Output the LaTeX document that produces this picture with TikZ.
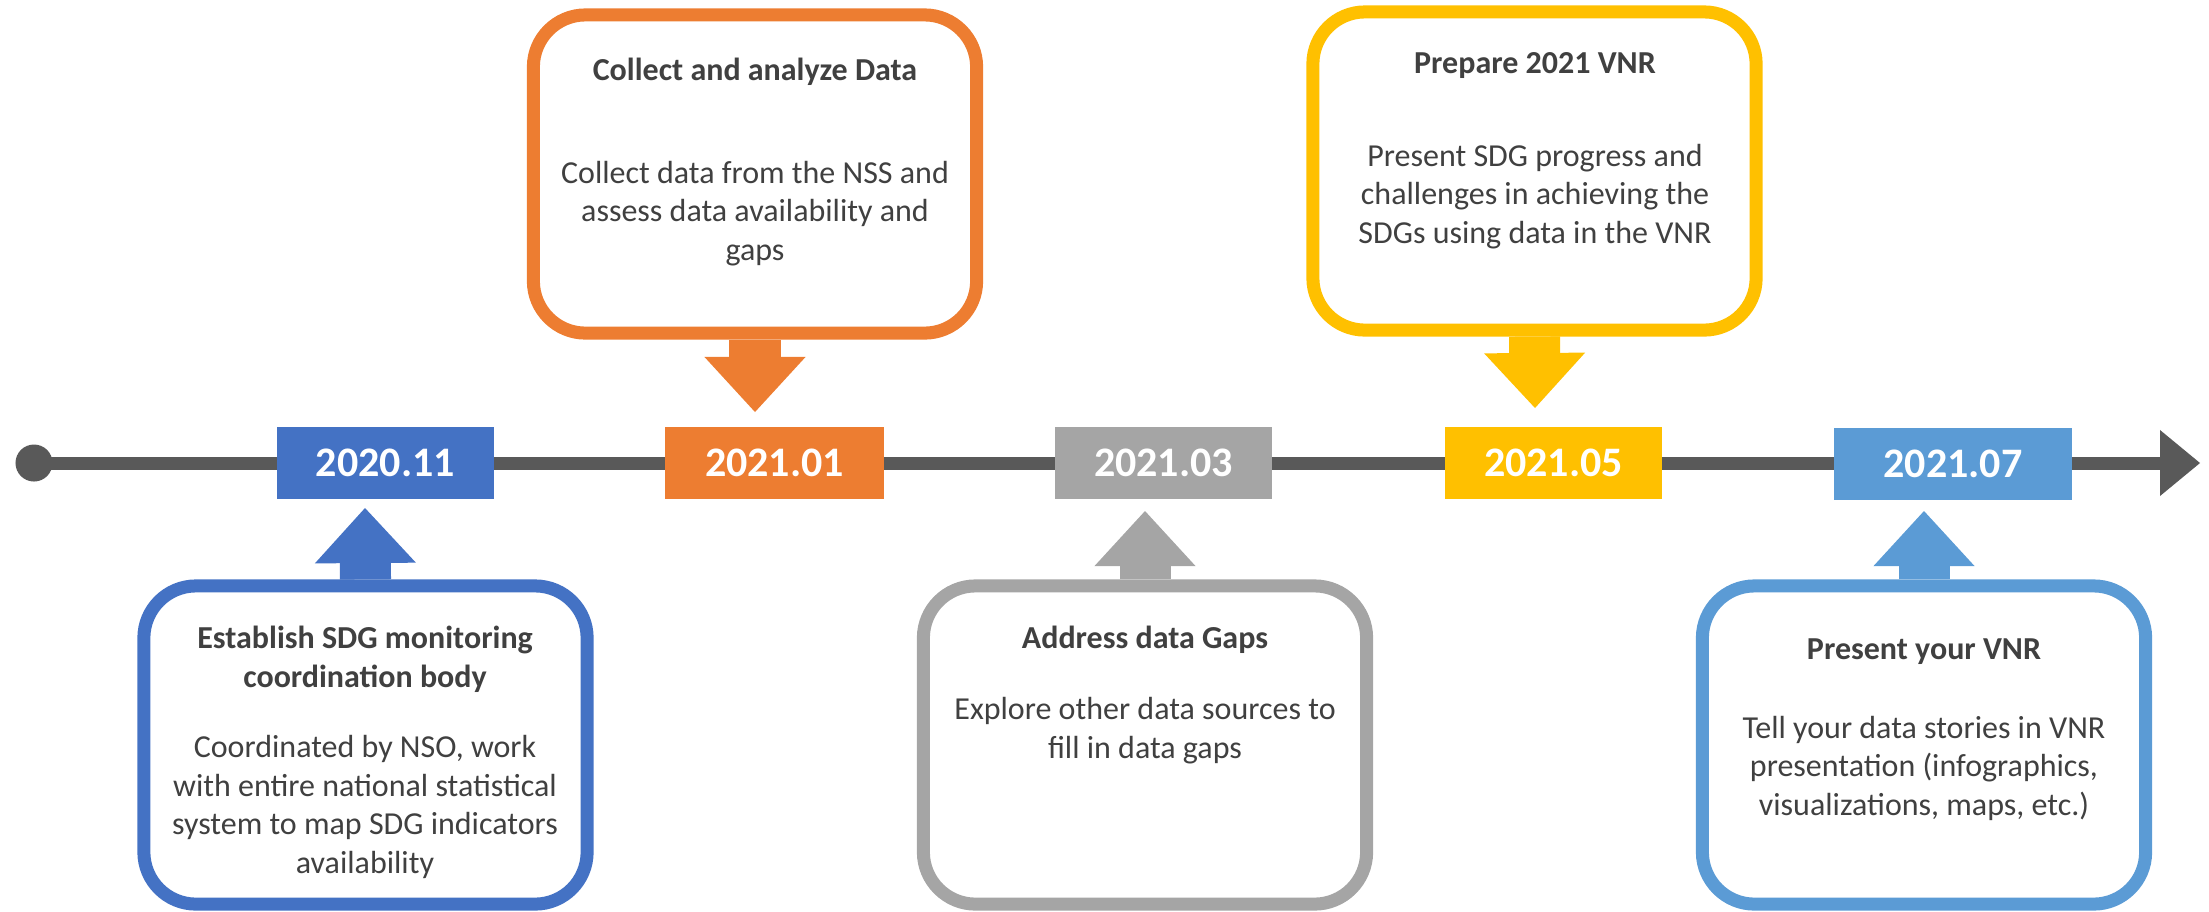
\documentclass[tikz,border=0pt]{standalone}
\usepackage{fontspec}
\setmainfont{Carlito}
\usepackage{tikz}
\usetikzlibrary{arrows.meta}
\definecolor{tlgray}{HTML}{595959}
\definecolor{txtgray}{HTML}{404040}
\definecolor{sdgblue}{HTML}{4472C4}
\definecolor{sdgorange}{HTML}{ED7D31}
\definecolor{sdggray}{HTML}{A5A5A5}
\definecolor{sdgyellow}{HTML}{FFC000}
\definecolor{sdglight}{HTML}{5B9BD5}
\tikzset{
  timeline/.style = {draw=tlgray, line width=3.7pt,
   -{Triangle[length=4mm, width=6.6mm, line width=0pt]}},
  dot/.style = {circle, fill=tlgray, inner sep=0pt, minimum size=3.7mm},
  datebox/.style = {rectangle, fill=#1, text=white, inner sep=0pt,
   minimum height=7.2mm, font=\fontsize{11.95}{14}\selectfont\bfseries},
  callout/.style = {rectangle, rounded corners=5.2mm, draw=#1, fill=white,
   line width=3.7pt, minimum width=44.3mm, minimum height=31.8mm},
  head/.style = {text=txtgray, align=center, anchor=base, inner sep=0pt,
   font=\fontsize{9.1}{10.95}\selectfont\bfseries},
  body/.style = {text=txtgray, align=center, anchor=base, inner sep=0pt,
   font=\fontsize{9.1}{10.95}\selectfont},
  fat/.style = {draw=#1, line width=5.1mm,
   -{Triangle[length=5.5mm, width=10.1mm, line width=0pt]}},
}
\begin{document}
\begin{tikzpicture}[x=0.01cm, y=-0.01cm]
  \useasboundingbox (0,0) rectangle (2209,911);
  % time axis
  \node (start) [dot] at (34,463) {};
  \coordinate (tend) at (2200,463);
  \draw[timeline] (start.center) -- (tend);
  % dates
  \node (d1) [datebox=sdgblue, minimum width=21.7mm] at (385.5,463) {2020.11};
  \node (d2) [datebox=sdgorange, minimum width=21.9mm] at (774.5,463) {2021.01};
  \node (d3) [datebox=sdggray, minimum width=21.7mm] at (1163.5,463) {2021.03};
  \node (d4) [datebox=sdgyellow, minimum width=21.7mm] at (1553.5,463) {2021.05};
  \node (d5) [datebox=sdglight, minimum width=23.8mm] at (1953,464) {2021.07};
  % boxes
  \node (c1) [callout=sdgblue] at (365.5,745) {};
  \node (c2) [callout=sdgorange] at (755,174) {};
  \node (c3) [callout=sdggray] at (1145,745) {};
  \node (c4) [callout=sdgyellow] at (1534.5,171) {};
  \node (c5) [callout=sdglight] at (1924,745) {};
  % arrow tips
  \coordinate (p1) at (365,508);
  \coordinate (p2) at (755,412);
  \coordinate (p3) at (1145,511);
  \coordinate (p4) at (1535,408);
  \coordinate (p5) at (1924,511);
  \draw[fat=sdgblue] (c1.north) -- (p1);
  \draw[fat=sdgorange] (c2.south) -- (p2);
  \draw[fat=sdggray] (c3.north) -- (p3);
  \draw[fat=sdgyellow] (c4.south) -- (p4);
  \draw[fat=sdglight] (c5.north) -- (p5);
  % texts (base = last line)
  \node (h1) [head] at (365,687) {Establish SDG monitoring\\coordination body};
  \node (b1) [body] at (365,873) {Coordinated by NSO, work\\with entire national statistical\\system to map SDG indicators\\availability};
  \node (h2) [head] at (755,80) {Collect and analyze Data};
  \node (b2) [body] at (755,260) {Collect data from the NSS and\\assess data availability and\\gaps};
  \node (h3) [head] at (1145,648) {Address data Gaps};
  \node (b3) [body] at (1145,758) {Explore other data sources to\\fill in data gaps};
  \node (h4) [head] at (1535,73) {Prepare 2021 VNR};
  \node (b4) [body] at (1535,243) {Present SDG progress and\\challenges in achieving the\\SDGs using data in the VNR};
  \node (h5) [head] at (1924,659) {Present your VNR};
  \node (b5) [body] at (1924,815) {Tell your data stories in VNR\\presentation (infographics,\\visualizations, maps, etc.)};
\end{tikzpicture}
\end{document}
